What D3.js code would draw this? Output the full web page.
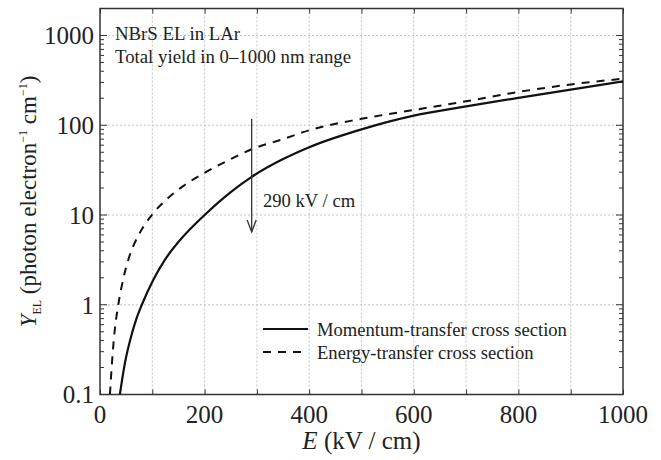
<!DOCTYPE html>
<html>
<head>
<meta charset="utf-8">
<script src="https://cdn.jsdelivr.net/npm/d3@7"></script>
<style>
  body { margin: 0; background: #fff; }
</style>
</head>
<body>
<div id="chart"></div>
<script>
/* Data */
let momentumE = [38, 48, 57, 70, 80, 102, 124, 156, 200, 250, 290, 350, 400, 500, 600, 700, 800, 900, 1000];
let momentumY = [0.1, 0.23, 0.39, 0.71, 1.0, 1.9, 3.16, 5.5, 10, 18, 26.6, 42, 57, 90, 128, 162, 202, 250, 308];

let energyE = [19, 23, 28, 35, 45, 54, 76, 99, 125, 159, 200, 250, 290, 350, 400, 500, 600, 700, 800, 900, 1000];
let energyY = [0.1, 0.23, 0.51, 1.0, 2.0, 3.16, 6.3, 10, 14.5, 21, 29.5, 42, 54, 70, 88, 118, 148, 185, 235, 285, 330];

let xTicks = [0, 200, 400, 600, 800, 1000];
let xGrid = [100, 200, 300, 400, 500, 600, 700, 800, 900];
let yTicks = [0.1, 1, 10, 100, 1000];
let yTickLabels = ['0.1', '1', '10', '100', '1000'];
let legendLabels = ['Momentum-transfer cross section', 'Energy-transfer cross section'];
let markE = 290;

/* Dimensions */
let width = 661, height = 460;
let plotLeft = 100, plotRight = 623, plotTop = 8.5, plotBottom = 394.5;
let serif = '"Liberation Serif", "Times New Roman", Times, "DejaVu Serif", serif';

let x = d3.scaleLinear().domain([0, 1000]).range([plotLeft, plotRight]);
let y = d3.scaleLog().domain([0.1, 2000]).range([plotBottom, plotTop]);

let svg = d3.select('#chart').append('svg')
  .attr('width', width)
  .attr('height', height)
  .attr('font-family', serif)
  .style('font-family', serif);

svg.append('defs').append('clipPath').attr('id', 'plot-clip')
  .append('rect')
  .attr('x', plotLeft).attr('y', plotTop)
  .attr('width', plotRight - plotLeft).attr('height', plotBottom - plotTop);

// grid
let grid = svg.append('g').attr('stroke', '#c4c4c4').attr('stroke-width', 1).attr('stroke-dasharray', '2,2');
grid.selectAll('.vgrid').data(xGrid).enter().append('line')
  .attr('x1', d => x(d)).attr('x2', d => x(d))
  .attr('y1', plotTop).attr('y2', plotBottom);
grid.selectAll('.hgrid').data(yTicks.slice(1)).enter().append('line')
  .attr('x1', plotLeft).attr('x2', plotRight)
  .attr('y1', d => y(d)).attr('y2', d => y(d));

// x axes, ticks pointing in
svg.append('g')
  .attr('transform', 'translate(0,' + plotBottom + ')')
  .call(d3.axisBottom(x).tickValues(d3.range(0, 1001, 100)).tickSizeInner(-5).tickSizeOuter(0).tickFormat(''));
svg.append('g')
  .attr('transform', 'translate(0,' + plotTop + ')')
  .call(d3.axisTop(x).tickValues(d3.range(0, 1001, 100)).tickSizeInner(-5).tickSizeOuter(0).tickFormat(''));

// y axes, majors + minors
let minors = [];
yTicks.forEach(t => { for (let k = 2; k <= 9; k++) if (t * k <= 2000) minors.push(t * k); });
[[plotLeft, 1], [plotRight, -1]].forEach(([px, dir]) => {
  let g = svg.append('g');
  g.selectAll('.maj').data(yTicks).enter().append('line')
    .attr('x1', px).attr('x2', px + dir * 7)
    .attr('y1', d => y(d)).attr('y2', d => y(d));
  g.selectAll('.min').data(minors).enter().append('line')
    .attr('x1', px).attr('x2', px + dir * 4)
    .attr('y1', d => y(d)).attr('y2', d => y(d));
  g.selectAll('line').attr('stroke', '#333').attr('stroke-width', 1);
});
svg.selectAll('.domain').remove();
svg.selectAll('.tick line').attr('stroke', '#333');

// frame
svg.append('rect')
  .attr('x', plotLeft).attr('y', plotTop)
  .attr('width', plotRight - plotLeft).attr('height', plotBottom - plotTop)
  .attr('fill', 'none').attr('stroke', '#333').attr('stroke-width', 1.5);

// tick labels
svg.selectAll('.xlab').data(xTicks).enter().append('text')
  .attr('x', d => x(d)).attr('y', 423)
  .attr('text-anchor', 'middle').style('font-size', '25px').attr('fill', '#222')
  .text(d => d);
svg.selectAll('.ylab').data(yTicks).enter().append('text')
  .attr('x', 94).attr('y', d => y(d)).attr('dy', '0.35em')
  .attr('text-anchor', 'end').style('font-size', '25px').attr('fill', '#222')
  .text((d, i) => yTickLabels[i]);

// axis titles
let xt = svg.append('text').attr('x', (plotLeft + plotRight) / 2).attr('y', 449)
  .attr('text-anchor', 'middle').style('font-size', '25px').attr('fill', '#222');
xt.append('tspan').style('font-style', 'italic').text('E');
xt.append('tspan').text(' (kV / cm)');

let yt = svg.append('text')
  .attr('transform', 'translate(36,' + ((plotTop + plotBottom) / 2) + ') rotate(-90)')
  .attr('text-anchor', 'middle').style('font-size', '23px').attr('fill', '#222');
yt.append('tspan').style('font-style', 'italic').text('Y');
yt.append('tspan').attr('dy', 5).style('font-size', '12px').text('EL');
yt.append('tspan').attr('dy', -5).text(' (photon electron');
yt.append('tspan').attr('dy', -9).style('font-size', '12px').text('\u22121');
yt.append('tspan').attr('dy', 9).text(' cm');
yt.append('tspan').attr('dy', -9).style('font-size', '12px').text('\u22121');
yt.append('tspan').attr('dy', 9).text(')');

// curves
let line = d3.line().x(d => x(d[0])).y(d => y(d[1])).curve(d3.curveMonotoneX);
let plot = svg.append('g').attr('clip-path', 'url(#plot-clip)');
plot.append('path')
  .datum(energyE.map((e, i) => [e, energyY[i]]))
  .attr('d', line).attr('fill', 'none')
  .attr('stroke', '#111').attr('stroke-width', 2).attr('stroke-dasharray', '8,7');
plot.append('path')
  .datum(momentumE.map((e, i) => [e, momentumY[i]]))
  .attr('d', line).attr('fill', 'none')
  .attr('stroke', '#111').attr('stroke-width', 2.2);

// 290 kV/cm arrow
let ax = x(markE);
svg.append('line').attr('x1', ax).attr('x2', ax).attr('y1', 119).attr('y2', 232)
  .attr('stroke', '#333').attr('stroke-width', 1.3);
svg.append('path').attr('d', 'M' + (ax - 4.5) + ',220 L' + ax + ',232 L' + (ax + 4.5) + ',220')
  .attr('fill', 'none').attr('stroke', '#333').attr('stroke-width', 1.3);
svg.append('text').attr('x', 263).attr('y', 207).style('font-size', '18.6px').attr('fill', '#222')
  .text(markE + ' kV / cm');

// annotation
svg.append('text').attr('x', 115).attr('y', 39.5).style('font-size', '18.8px').attr('fill', '#222')
  .text('NBrS EL in LAr');
svg.append('text').attr('x', 115).attr('y', 63).style('font-size', '18.8px').attr('fill', '#222')
  .text('Total yield in 0\u20131000 nm range');

// legend
let legend = svg.append('g');
legendLabels.forEach((lab, i) => {
  let ly = 329 + i * 23;
  legend.append('line').attr('x1', 263).attr('x2', 308).attr('y1', ly).attr('y2', ly)
    .attr('stroke', '#111').attr('stroke-width', 2.2)
    .attr('stroke-dasharray', i === 1 ? '8,7' : null);
  legend.append('text').attr('x', 317).attr('y', ly + 7).style('font-size', '18.6px').attr('fill', '#222')
    .text(lab);
});
</script>
</body>
</html>
